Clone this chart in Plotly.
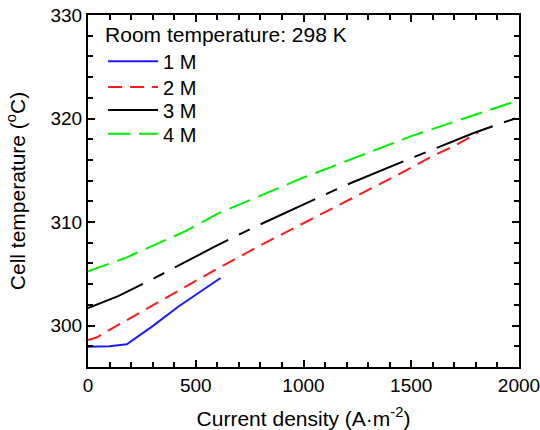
import plotly.graph_objects as go

# 1 M
x_1m = [0, 100, 180, 300, 420, 530, 615]
y_1m = [297.95, 298.0, 298.2, 299.95, 301.85, 303.45, 304.6]
# 2 M
x_2m = [0, 40, 110, 250, 400, 600, 800, 1000, 1200, 1450, 1600, 1700, 1810]
y_2m = [298.6, 298.85, 299.7, 301.35, 303.1, 305.5, 307.75, 309.9, 312.0, 314.7, 316.4, 317.35, 318.65]
# 3 M
x_3m = [0, 140, 310, 590, 760, 1000, 1200, 1480, 1650, 1790, 1925, 1990]
y_3m = [301.7, 302.85, 304.6, 307.65, 309.4, 311.65, 313.6, 316.0, 317.45, 318.6, 319.6, 320.05]
# 4 M
x_4m = [0, 170, 450, 600, 1000, 1340, 1500, 1960, 2000]
y_4m = [305.25, 306.5, 309.1, 310.8, 314.3, 317.0, 318.3, 321.5, 321.75]

names = ["1 M", "2 M", "3 M", "4 M"]
colors = ["#1a1aff", "#ff1a1a", "#000000", "#00ee00"]
dashes = ["solid", "14px,8px", "60px,12px,12px,12px", "22px,9px"]
legend_ids = ["legend", "legend2", "legend3", "legend4"]

FONT = "Liberation Sans, Arial, Helvetica, sans-serif"

fig = go.Figure()
for xs, ys, nm, c, d, lg in zip([x_1m, x_2m, x_3m, x_4m], [y_1m, y_2m, y_3m, y_4m],
                                names, colors, dashes, legend_ids):
    fig.add_trace(go.Scatter(x=xs, y=ys, mode="lines", name=nm, legend=lg,
                             line=dict(color=c, width=2, dash=d)))

axis_common = dict(
    showline=True, linecolor="black", linewidth=2, mirror="allticks",
    ticks="inside", ticklen=7, tickwidth=1.5, tickcolor="black",
    showgrid=False, zeroline=False, automargin=False, ticklabeloverflow="allow",
    tickfont=dict(family=FONT, size=19, color="black"),
)

fig.update_xaxes(range=[0, 2000], tick0=0, dtick=500,
                 minor=dict(ticks="inside", ticklen=5, tickwidth=1.5, tickcolor="black", dtick=100, showgrid=False),
                 title=dict(text="Current density (A·m<sup>-2</sup>)", font=dict(family=FONT, size=21, color="black"), standoff=24),
                 **axis_common)
fig.update_yaxes(range=[296, 330], tick0=300, dtick=10,
                 minor=dict(ticks="inside", ticklen=5, tickwidth=1.5, tickcolor="black", dtick=2, tick0=296, showgrid=False),
                 title=dict(text="Cell temperature (<sup>o</sup>C)", font=dict(family=FONT, size=21, color="black"), standoff=19),
                 **axis_common)

leg_common = dict(x=0.035, xanchor="left", bgcolor="rgba(0,0,0,0)", borderwidth=0,
                  font=dict(family=FONT, size=20, color="black"), itemwidth=50)

fig.update_layout(
    width=540, height=430,
    margin=dict(l=88, r=21, t=15, b=63),
    plot_bgcolor="white", paper_bgcolor="white",
    font=dict(family=FONT, color="black"),
    showlegend=True,
    legend=dict(y=1.0017, yanchor="top",
                title=dict(text="Room temperature: 298 K", font=dict(family=FONT, size=21, color="black")),
                **leg_common),
    legend2=dict(y=0.7956, yanchor="middle", **leg_common),
    legend3=dict(y=0.7303, yanchor="middle", **leg_common),
    legend4=dict(y=0.6623, yanchor="middle", **leg_common),
)

fig.write_html("out.html", config={"displayModeBar": False},
               post_script="document.body.style.margin='0px';")
